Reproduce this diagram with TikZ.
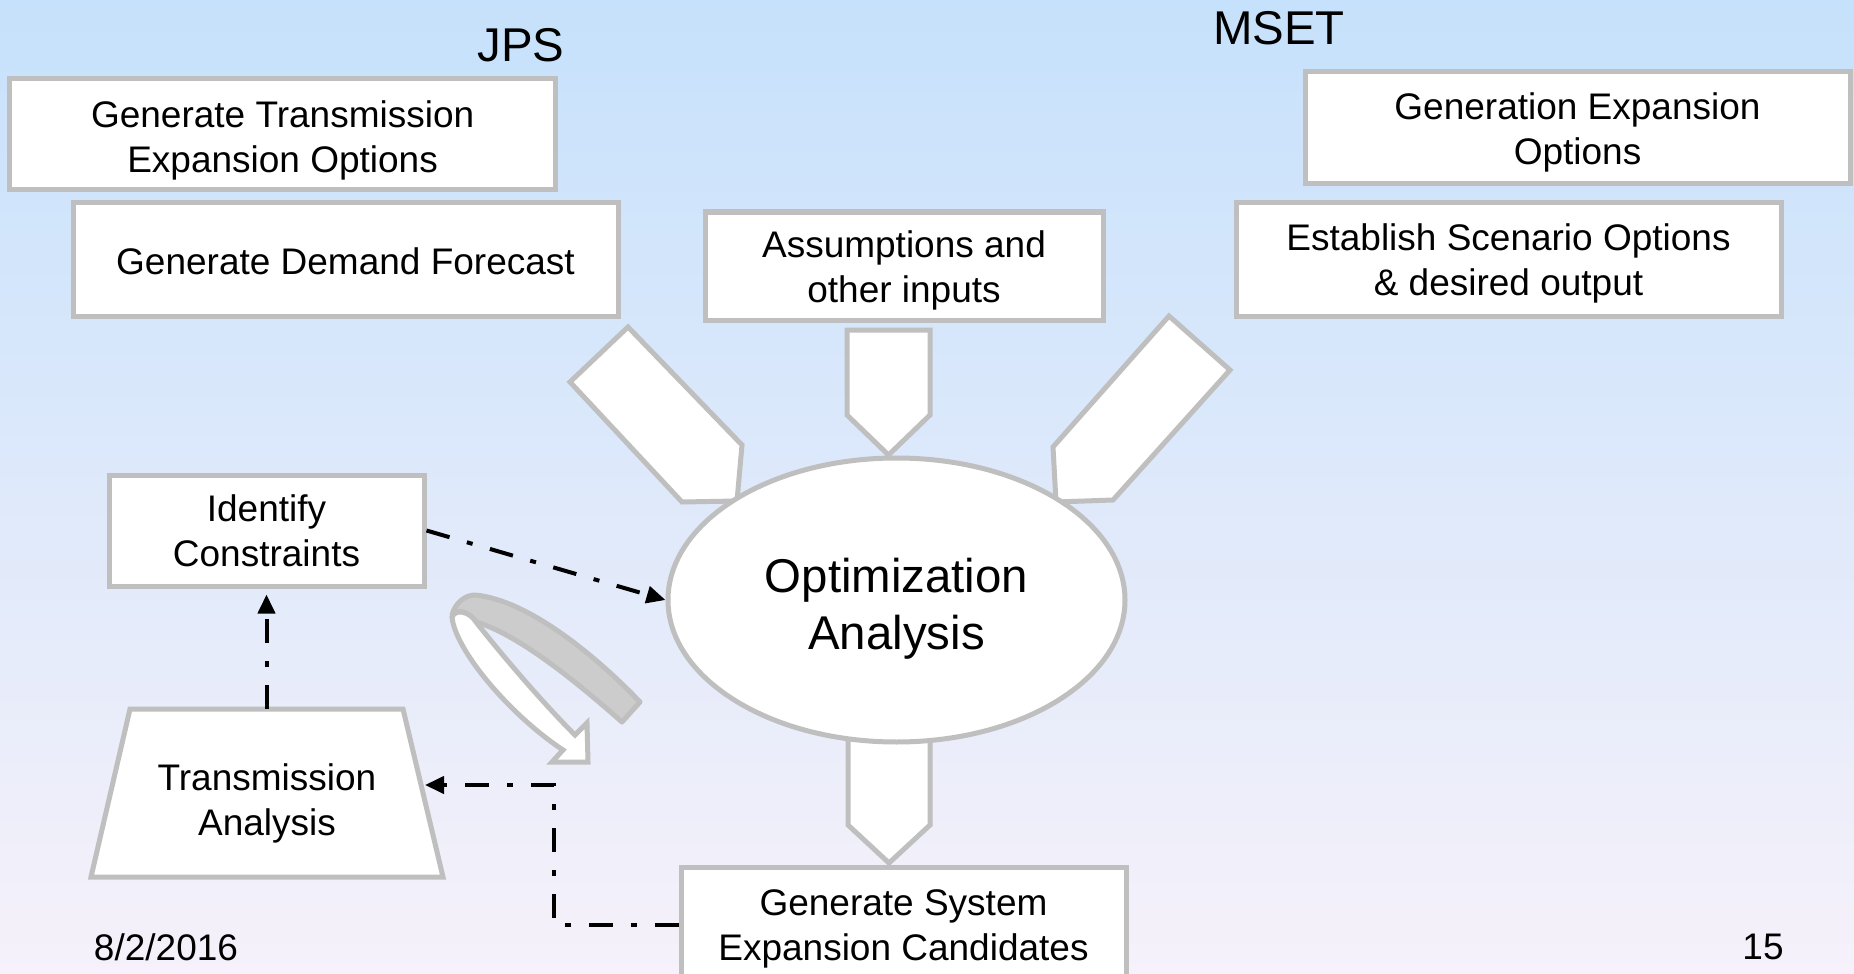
\documentclass[tikz,border=0pt]{standalone}
\usepackage{fontspec}
\setmainfont{Liberation Sans}
\usetikzlibrary{shapes.geometric,arrows.meta}

\definecolor{bgtop}{RGB}{198,225,251}
\definecolor{bgmid}{RGB}{216,230,246}
\definecolor{bgbot}{RGB}{246,241,250}
\definecolor{edgegray}{RGB}{191,191,191}
\definecolor{foldgray}{RGB}{204,204,204}

\newcommand{\boxfont}{\fontsize{18.5}{22.5}\selectfont}
\newcommand{\bigfont}{\fontsize{23.7}{28.5}\selectfont}
% centred lines of text, moved down by an amount while keeping their box size
\newcommand{\sunk}[2][2pt]{\raisebox{-#1}[\height][\depth]{\begin{tabular}{@{}c@{}}#2\end{tabular}}}

\begin{document}
\begin{tikzpicture}[x=0.5pt,y=-0.5pt,
  stepbox/.style={draw=edgegray, line width=2.5pt, fill=white,
    font=\boxfont, inner sep=0pt},
  blockarrow/.style={draw=edgegray, fill=white, line width=2.5pt, line join=miter},
  flow/.style={line width=2pt, dash pattern=on 12pt off 9pt on 3pt off 9pt,
    -{Triangle[length=9.5pt,width=8.5pt]}},
  heading/.style={font=\bigfont, inner sep=0pt},
  footer/.style={font=\boxfont, inner sep=0pt}]

% background
\shade[top color=bgtop, middle color=bgmid, bottom color=bgbot]
  (0,0) rectangle (1854,974);
\useasboundingbox (0,0) rectangle (1854,974);
\clip (0,0) rectangle (1854,974);

% group headings
\node[heading] (jps) at (521,45) {JPS};
\node[heading] (mset) at (1279,28) {MSET};

% input boxes
\node[stepbox, minimum width=273pt, minimum height=55.5pt] (trans) at (282.6,134.5)
  {\sunk[3.3pt]{Generate Transmission\\Expansion Options}};
\node[stepbox, minimum width=272.5pt, minimum height=56.5pt] (demand) at (345.5,259.5)
  {\sunk[3pt]{Generate Demand Forecast}};
\node[stepbox, minimum width=199pt, minimum height=54pt] (assume) at (904,266)
  {\sunk[2.4pt]{Assumptions and\\other inputs}};
\node[stepbox, minimum width=272.5pt, minimum height=56pt] (genexp) at (1577.5,128)
  {\sunk[2.4pt]{Generation Expansion\\Options}};
\node[stepbox, minimum width=272.5pt, minimum height=56.5pt] (scen) at (1508.5,259.5)
  {\sunk[2.4pt]{Establish Scenario Options\\\& desired output}};

% block arrows into and out of the optimisation
\draw[blockarrow] (628,327) -- (570,382) -- (682,502) -- (737,501) -- (742,445) -- cycle;
\draw[blockarrow] (1169,316) -- (1230,370) -- (1113,500) -- (1056,502) -- (1053,447) -- cycle;
\draw[blockarrow] (847,330) -- (930,330) -- (930,415) -- (888.5,455) -- (847,415) -- cycle;
\draw[blockarrow] (848,730) -- (930,730) -- (930,825) -- (889,863) -- (848,825) -- cycle;

% central analysis
\node[ellipse, draw=edgegray, line width=2.5pt, fill=white,
  font=\bigfont, minimum width=228.5pt, minimum height=142pt, inner sep=0pt]
  (opt) at (896.5,600) {\sunk[4.6pt]{Optimization\\Analysis}};

% output box
\node[stepbox, minimum width=222.5pt, minimum height=58pt] (cand) at (903.5,925)
  {\sunk[1.8pt]{Generate System\\Expansion Candidates}};

% constraint identification
\node[stepbox, minimum width=157.5pt, minimum height=55.5pt] (ident) at (266.5,530.5)
  {\sunk[2.4pt]{Identify\\Constraints}};

% transmission analysis (trapezium)
\draw[draw=edgegray, line width=2.5pt, fill=white, line join=miter]
  (130,709) -- (403,709) -- (443,877) -- (91,877) -- cycle;
\node[align=center, font=\boxfont, inner sep=0pt] (tran) at (267,803.5)
  {Transmission\\Analysis};
\coordinate (tranTop) at (266.5,709);
\coordinate (tranRight) at (425,785);
\coordinate (bend) at (554,785);

% feedback loop symbol
\draw[draw=edgegray, fill=foldgray, line width=2.5pt, line join=round]
  (452,615) .. controls (455,603) and (465,595) .. (475,595)
  .. controls (530,600) and (600,660) .. (640,702)
  -- (622,722)
  .. controls (580,685) and (520,635) .. (476,622)
  .. controls (470,612) and (456,608) .. (452,615) -- cycle;
\draw[draw=edgegray, fill=white, line width=2.5pt, line join=miter]
  (452,617) .. controls (455,650) and (510,715) .. (563,750)
  -- (552,762) -- (588,762) -- (587,723) -- (575,735)
  .. controls (535,695) and (490,640) .. (476,622)
  .. controls (470,612) and (456,608) .. (452,617) -- cycle;

% dash-dot connectors
\draw[flow] (ident.east) -- (opt.west);
\draw[flow, shorten >=3pt] (tranTop) -- (ident.south);
\draw[flow] (cand.west) -| (bend) -- (tranRight);

% footer
\node[footer] (date) at (166,947) {8/2/2016};
\node[footer] (page) at (1763,947) {15};
\end{tikzpicture}
\end{document}
